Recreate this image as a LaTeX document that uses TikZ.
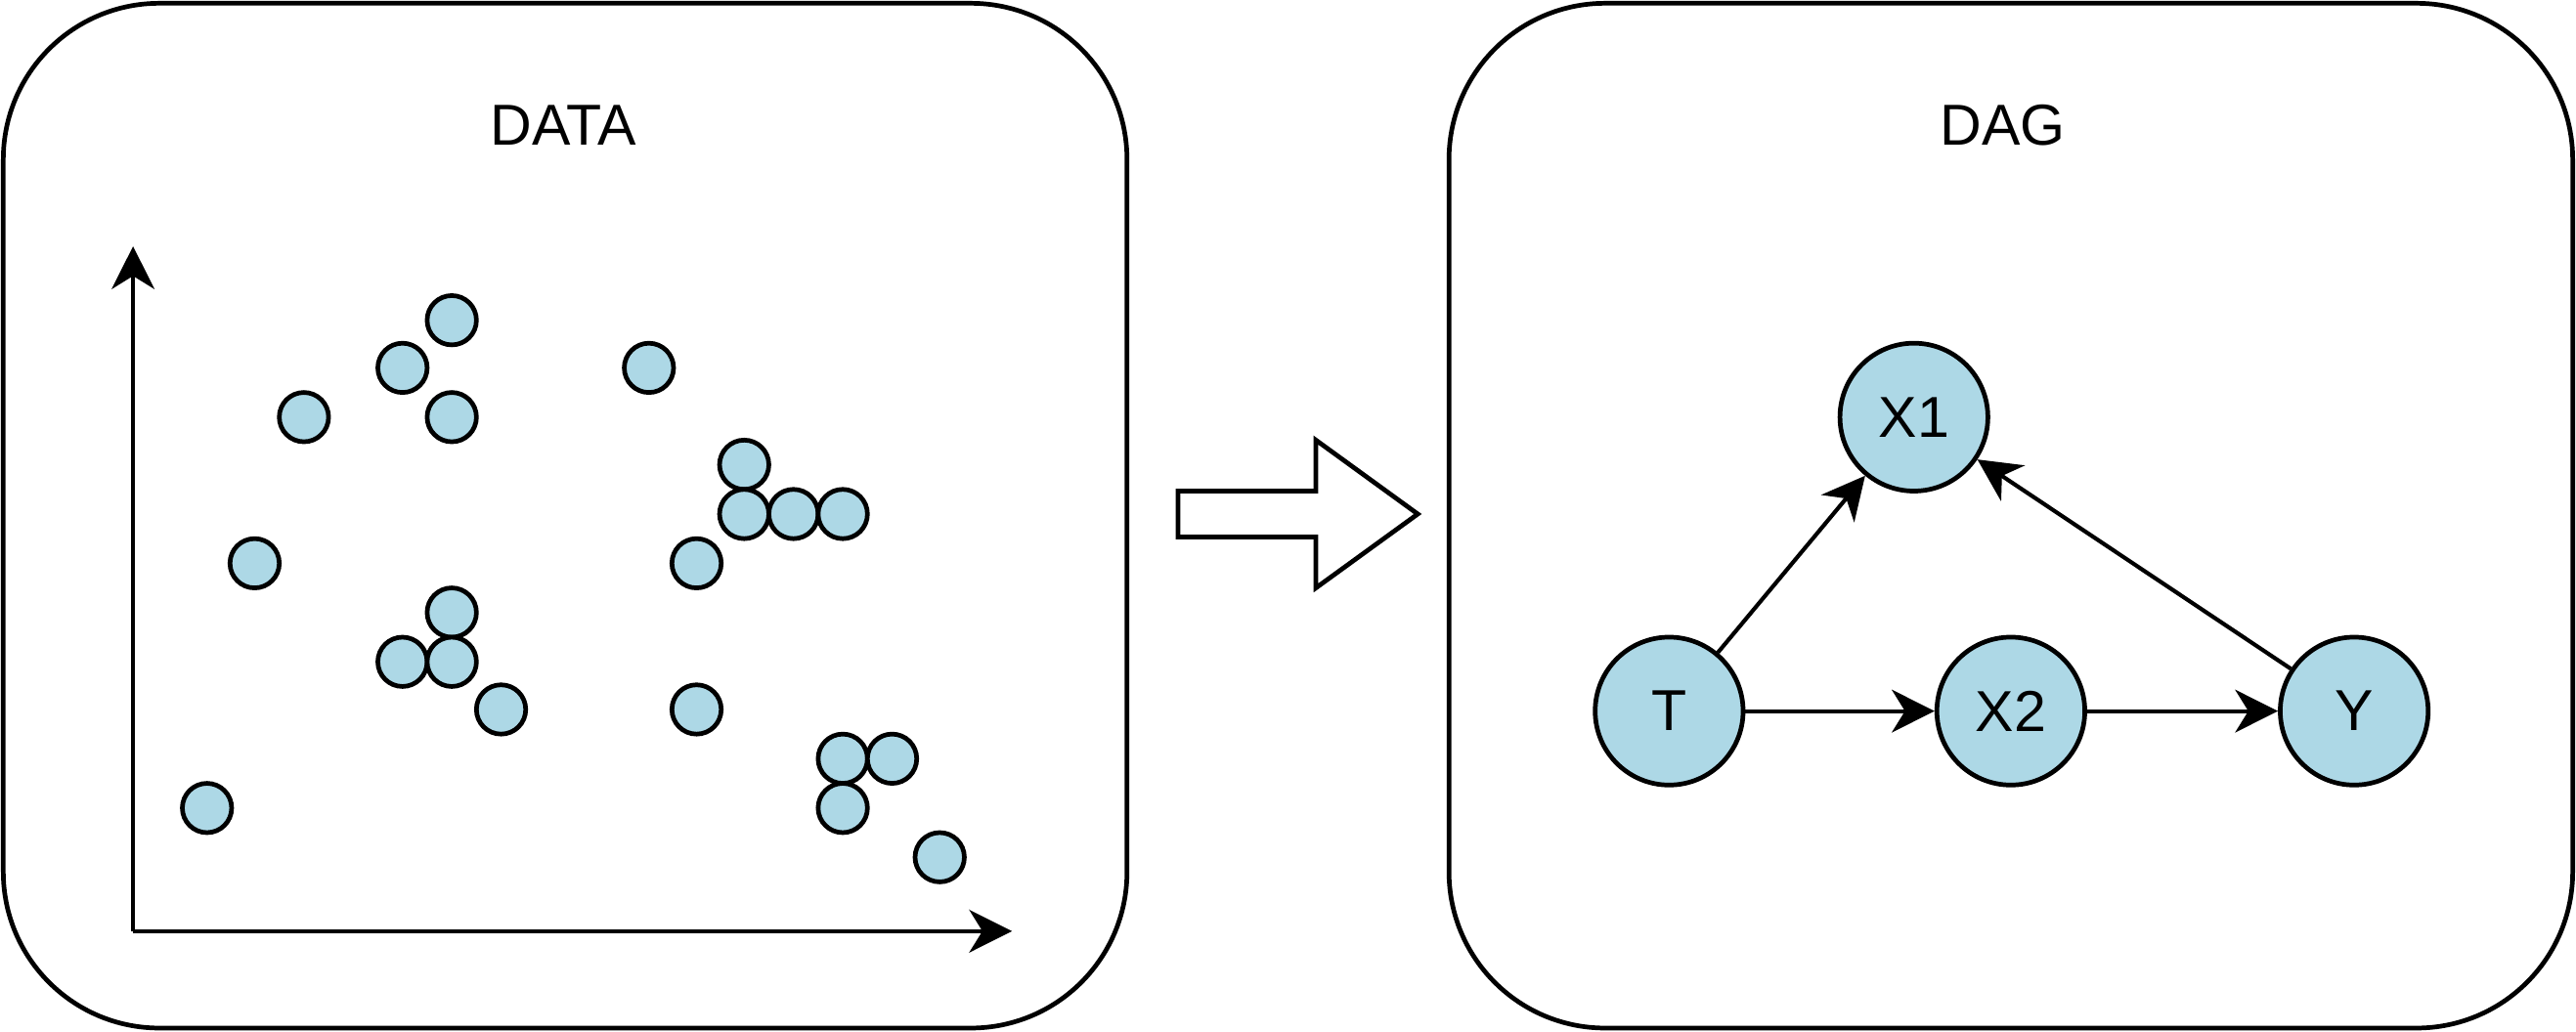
\documentclass[tikz,border=0pt]{standalone}
\usepackage{fontspec}
\setmainfont{Liberation Sans}
\usetikzlibrary{arrows.meta}
\definecolor{lb}{HTML}{ADD8E6}
\begin{document}
\begin{tikzpicture}[x=0.01cm,y=-0.01cm,
  panel/.style={draw,line width=0.8pt,rounded corners=0.95cm},
  dot/.style={circle,draw,fill=lb,line width=0.8pt,minimum size=0.3cm,inner sep=0pt},
  vnode/.style={circle,draw,fill=lb,line width=0.8pt,minimum size=0.9cm,inner sep=0pt,font=\fontsize{10}{12}\selectfont},
  arr/.style={line width=0.7pt,-{Stealth[length=0.26cm,width=0.26cm,inset=0.08cm]}},
  lbl/.style={font=\fontsize{10}{12}\selectfont}]
\useasboundingbox (0,0) rectangle (1568,628);
\draw[panel] (2,2) rectangle (686,626);
\draw[panel] (882,2) rectangle (1566,626);
\node[lbl] (tdata) at (343,76) {DATA};
\node[lbl] (tdag) at (1219,76) {DAG};
\coordinate (o) at (81,567);
\coordinate (ytip) at (81,150);
\coordinate (xtip) at (616,567);
\draw[arr] (o) -- (ytip);
\draw[arr] (o) -- (xtip);
\foreach \p [count=\i] in {(275,195),(245,224),(275,254),(185,254),(395,224),(453,283),(453,313),(483,313),(513,313),(155,343),(424,343),(275,373),(245,403),(275,403),(305,432),(424,432),(513,462),(543,462),(513,492),(126,492),(572,522)}
  \node[dot] (d\i) at \p {};
\draw[line width=0.8pt] (717,299) -- (801,299) -- (801,268) -- (863,313) -- (801,358) -- (801,327) -- (717,327) -- cycle;
\node[vnode] (X1) at (1165,254) {X1};
\node[vnode] (T) at (1016,433) {T};
\node[vnode] (X2) at (1224,433) {X2};
\node[vnode] (Y) at (1433,433) {Y};
\draw[arr] (T) -- (X1);
\draw[arr] (Y) -- (X1);
\draw[arr] (T) -- (X2);
\draw[arr] (X2) -- (Y);
\end{tikzpicture}
\end{document}
